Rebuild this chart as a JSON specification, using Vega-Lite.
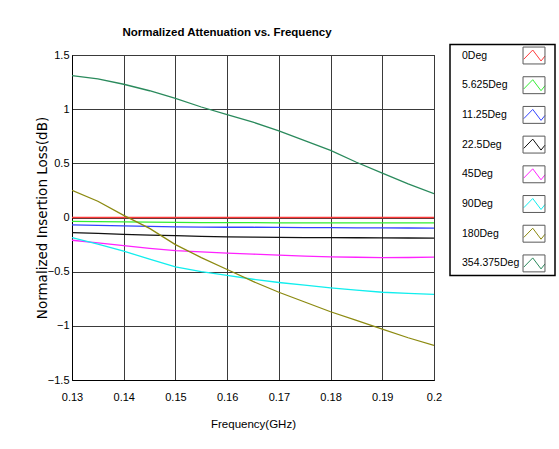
{
  "$schema": "https://vega.github.io/schema/vega-lite/v6.json",
  "background": "white",
  "padding": {"left": 35, "top": 27, "right": 0, "bottom": 0},
  "width": 362,
  "height": 325,
  "config": {
    "font": "Liberation Sans",
    "view": {"stroke": "black", "strokeWidth": 1}
  },
  "title": {
    "text": "Normalized Attenuation vs. Frequency",
    "fontSize": 11.5,
    "fontWeight": "bold",
    "color": "black",
    "anchor": "middle",
    "dx": -26,
    "offset": 5
  },
  "datasets": {
    "curves": [
      {"f": 0.13, "series": "0Deg", "v": 0}, {"f": 0.135, "series": "0Deg", "v": 0}, {"f": 0.14, "series": "0Deg", "v": 0}, {"f": 0.145, "series": "0Deg", "v": 0}, {"f": 0.15, "series": "0Deg", "v": 0}, {"f": 0.155, "series": "0Deg", "v": 0}, {"f": 0.16, "series": "0Deg", "v": 0}, {"f": 0.165, "series": "0Deg", "v": 0}, {"f": 0.17, "series": "0Deg", "v": 0}, {"f": 0.175, "series": "0Deg", "v": 0}, {"f": 0.18, "series": "0Deg", "v": 0}, {"f": 0.185, "series": "0Deg", "v": 0}, {"f": 0.19, "series": "0Deg", "v": 0}, {"f": 0.195, "series": "0Deg", "v": 0}, {"f": 0.2, "series": "0Deg", "v": 0},
      {"f": 0.13, "series": "5.625Deg", "v": -0.035}, {"f": 0.135, "series": "5.625Deg", "v": -0.038}, {"f": 0.14, "series": "5.625Deg", "v": -0.04}, {"f": 0.145, "series": "5.625Deg", "v": -0.042}, {"f": 0.15, "series": "5.625Deg", "v": -0.045}, {"f": 0.155, "series": "5.625Deg", "v": -0.047}, {"f": 0.16, "series": "5.625Deg", "v": -0.048}, {"f": 0.165, "series": "5.625Deg", "v": -0.048}, {"f": 0.17, "series": "5.625Deg", "v": -0.049}, {"f": 0.175, "series": "5.625Deg", "v": -0.049}, {"f": 0.18, "series": "5.625Deg", "v": -0.05}, {"f": 0.185, "series": "5.625Deg", "v": -0.05}, {"f": 0.19, "series": "5.625Deg", "v": -0.05}, {"f": 0.195, "series": "5.625Deg", "v": -0.05}, {"f": 0.2, "series": "5.625Deg", "v": -0.05},
      {"f": 0.13, "series": "11.25Deg", "v": -0.068}, {"f": 0.135, "series": "11.25Deg", "v": -0.072}, {"f": 0.14, "series": "11.25Deg", "v": -0.077}, {"f": 0.145, "series": "11.25Deg", "v": -0.082}, {"f": 0.15, "series": "11.25Deg", "v": -0.087}, {"f": 0.155, "series": "11.25Deg", "v": -0.089}, {"f": 0.16, "series": "11.25Deg", "v": -0.09}, {"f": 0.165, "series": "11.25Deg", "v": -0.09}, {"f": 0.17, "series": "11.25Deg", "v": -0.092}, {"f": 0.175, "series": "11.25Deg", "v": -0.093}, {"f": 0.18, "series": "11.25Deg", "v": -0.094}, {"f": 0.185, "series": "11.25Deg", "v": -0.095}, {"f": 0.19, "series": "11.25Deg", "v": -0.096}, {"f": 0.195, "series": "11.25Deg", "v": -0.097}, {"f": 0.2, "series": "11.25Deg", "v": -0.098},
      {"f": 0.13, "series": "22.5Deg", "v": -0.14}, {"f": 0.135, "series": "22.5Deg", "v": -0.147}, {"f": 0.14, "series": "22.5Deg", "v": -0.155}, {"f": 0.145, "series": "22.5Deg", "v": -0.162}, {"f": 0.15, "series": "22.5Deg", "v": -0.168}, {"f": 0.155, "series": "22.5Deg", "v": -0.174}, {"f": 0.16, "series": "22.5Deg", "v": -0.178}, {"f": 0.165, "series": "22.5Deg", "v": -0.181}, {"f": 0.17, "series": "22.5Deg", "v": -0.183}, {"f": 0.175, "series": "22.5Deg", "v": -0.185}, {"f": 0.18, "series": "22.5Deg", "v": -0.186}, {"f": 0.185, "series": "22.5Deg", "v": -0.187}, {"f": 0.19, "series": "22.5Deg", "v": -0.188}, {"f": 0.195, "series": "22.5Deg", "v": -0.189}, {"f": 0.2, "series": "22.5Deg", "v": -0.19},
      {"f": 0.13, "series": "45Deg", "v": -0.21}, {"f": 0.135, "series": "45Deg", "v": -0.235}, {"f": 0.14, "series": "45Deg", "v": -0.26}, {"f": 0.145, "series": "45Deg", "v": -0.285}, {"f": 0.15, "series": "45Deg", "v": -0.305}, {"f": 0.155, "series": "45Deg", "v": -0.318}, {"f": 0.16, "series": "45Deg", "v": -0.328}, {"f": 0.165, "series": "45Deg", "v": -0.338}, {"f": 0.17, "series": "45Deg", "v": -0.348}, {"f": 0.175, "series": "45Deg", "v": -0.357}, {"f": 0.18, "series": "45Deg", "v": -0.363}, {"f": 0.185, "series": "45Deg", "v": -0.367}, {"f": 0.19, "series": "45Deg", "v": -0.37}, {"f": 0.195, "series": "45Deg", "v": -0.369}, {"f": 0.2, "series": "45Deg", "v": -0.365},
      {"f": 0.13, "series": "90Deg", "v": -0.185}, {"f": 0.135, "series": "90Deg", "v": -0.245}, {"f": 0.14, "series": "90Deg", "v": -0.31}, {"f": 0.145, "series": "90Deg", "v": -0.385}, {"f": 0.15, "series": "90Deg", "v": -0.455}, {"f": 0.155, "series": "90Deg", "v": -0.5}, {"f": 0.16, "series": "90Deg", "v": -0.535}, {"f": 0.165, "series": "90Deg", "v": -0.57}, {"f": 0.17, "series": "90Deg", "v": -0.6}, {"f": 0.175, "series": "90Deg", "v": -0.625}, {"f": 0.18, "series": "90Deg", "v": -0.65}, {"f": 0.185, "series": "90Deg", "v": -0.67}, {"f": 0.19, "series": "90Deg", "v": -0.69}, {"f": 0.195, "series": "90Deg", "v": -0.7}, {"f": 0.2, "series": "90Deg", "v": -0.71},
      {"f": 0.13, "series": "180Deg", "v": 0.25}, {"f": 0.135, "series": "180Deg", "v": 0.15}, {"f": 0.14, "series": "180Deg", "v": 0.02}, {"f": 0.145, "series": "180Deg", "v": -0.1}, {"f": 0.15, "series": "180Deg", "v": -0.25}, {"f": 0.155, "series": "180Deg", "v": -0.37}, {"f": 0.16, "series": "180Deg", "v": -0.48}, {"f": 0.165, "series": "180Deg", "v": -0.59}, {"f": 0.17, "series": "180Deg", "v": -0.69}, {"f": 0.175, "series": "180Deg", "v": -0.78}, {"f": 0.18, "series": "180Deg", "v": -0.87}, {"f": 0.185, "series": "180Deg", "v": -0.95}, {"f": 0.19, "series": "180Deg", "v": -1.03}, {"f": 0.195, "series": "180Deg", "v": -1.11}, {"f": 0.2, "series": "180Deg", "v": -1.18},
      {"f": 0.13, "series": "354.375Deg", "v": 1.31}, {"f": 0.135, "series": "354.375Deg", "v": 1.28}, {"f": 0.14, "series": "354.375Deg", "v": 1.23}, {"f": 0.145, "series": "354.375Deg", "v": 1.17}, {"f": 0.15, "series": "354.375Deg", "v": 1.1}, {"f": 0.155, "series": "354.375Deg", "v": 1.02}, {"f": 0.16, "series": "354.375Deg", "v": 0.95}, {"f": 0.165, "series": "354.375Deg", "v": 0.88}, {"f": 0.17, "series": "354.375Deg", "v": 0.8}, {"f": 0.175, "series": "354.375Deg", "v": 0.71}, {"f": 0.18, "series": "354.375Deg", "v": 0.62}, {"f": 0.185, "series": "354.375Deg", "v": 0.51}, {"f": 0.19, "series": "354.375Deg", "v": 0.41}, {"f": 0.195, "series": "354.375Deg", "v": 0.31}, {"f": 0.2, "series": "354.375Deg", "v": 0.22}
    ],
    "legendItems": [
      {"series": "0Deg"}, {"series": "5.625Deg"}, {"series": "11.25Deg"}, {"series": "22.5Deg"},
      {"series": "45Deg"}, {"series": "90Deg"}, {"series": "180Deg"}, {"series": "354.375Deg"}
    ]
  },
  "layer": [
    {
      "data": {"name": "curves"},
      "mark": {"type": "line", "strokeWidth": 1.3, "clip": true},
      "encoding": {
        "x": {
          "field": "f", "type": "quantitative",
          "scale": {"domain": [0.13, 0.2], "nice": false, "zero": false},
          "axis": {
            "values": [0.13, 0.14, 0.15, 0.16, 0.17, 0.18, 0.19, 0.2],
            "format": "~g",
            "labelFlush": false,
            "title": "Frequency(GHz)",
            "titleFontSize": 11.5, "titleFontWeight": "normal", "titleColor": "black",
            "titleY": 44, "titleBaseline": "middle",
            "labelFontSize": 11, "labelColor": "black", "labelPadding": 11,
            "ticks": false,
            "domainColor": "black",
            "gridColor": "#3a3a3a", "gridOpacity": 1, "gridWidth": 1
          }
        },
        "y": {
          "field": "v", "type": "quantitative",
          "scale": {"domain": [-1.5, 1.5], "nice": false, "zero": false},
          "axis": {
            "values": [-1.5, -1, -0.5, 0, 0.5, 1, 1.5],
            "format": "~g",
            "labelFlush": false,
            "title": "Normalized Insertion Loss(dB)",
            "titleFont": "DejaVu Sans",
            "titleFontSize": 13.5, "titleFontWeight": "normal", "titleColor": "black",
            "titleX": -30, "titleBaseline": "middle",
            "labelFontSize": 11, "labelColor": "black", "labelPadding": 3,
            "ticks": false,
            "domainColor": "black",
            "gridColor": "#3a3a3a", "gridOpacity": 1, "gridWidth": 1
          }
        },
        "color": {
          "field": "series", "type": "nominal",
          "scale": {
            "domain": ["0Deg", "5.625Deg", "11.25Deg", "22.5Deg", "45Deg", "90Deg", "180Deg", "354.375Deg"],
            "range": ["#ff3b3b", "#33ee33", "#3344ff", "#111111", "#ff22ff", "#11eeee", "#8c8a10", "#2a8a5c"]
          },
          "legend": {
            "orient": "none", "legendX": 378, "legendY": -10.5,
            "title": null,
            "padding": 1.5,
            "rowPadding": 8.7,
            "symbolType": "M-1.22,-0.94M1.22,0.94M1.84,0M-1.14,0.42L-0.14,-0.61L0.78,0.61L1.22,0.06",
            "symbolSize": 324,
            "symbolStrokeWidth": 1,
            "symbolFillColor": "transparent",
            "symbolOffset": 73,
            "labelOffset": -81.5,
            "labelFontSize": 10.5,
            "labelColor": "black",
            "strokeColor": "black",
            "fillColor": "white",
            "encode": {"legend": {"update": {"strokeWidth": {"value": 1.5}}}}
          }
        }
      }
    },
    {
      "data": {"name": "legendItems"},
      "mark": {"type": "point", "filled": false, "opacity": 0, "color": "#5a5a5a"},
      "encoding": {
        "shape": {
          "field": "series", "type": "nominal",
          "scale": {"range": ["M1.84,0M-1.22,-0.94L1.22,-0.94L1.22,0.94L-1.22,0.94Z"]},
          "legend": {
            "orient": "none", "legendX": 378, "legendY": -10.5,
            "title": null,
            "padding": 1.5,
            "rowPadding": 8.7,
            "symbolSize": 324,
            "symbolStrokeWidth": 1,
            "symbolStrokeColor": "#5a5a5a",
            "symbolFillColor": "transparent",
            "symbolOpacity": 1,
            "symbolOffset": 73,
            "labelOffset": -81.5,
            "labelFontSize": 10.5,
            "labelExpr": "''"
          }
        }
      }
    }
  ]
}
